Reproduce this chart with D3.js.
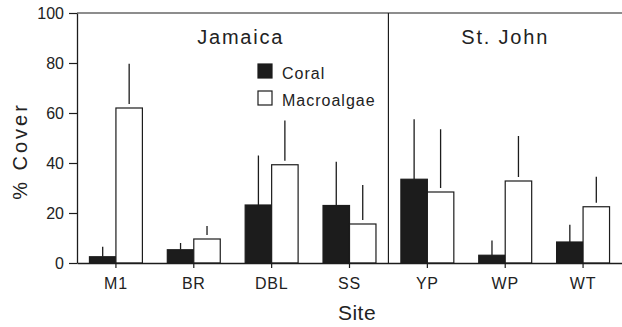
<!DOCTYPE html>
<html>
<head>
<meta charset="utf-8">
<script src="https://cdn.jsdelivr.net/npm/d3@7"></script>
<style>
  body { margin: 0; background: #fff; }
  svg { display: block; font-family: "Liberation Sans", Arial, sans-serif; }
</style>
</head>
<body>
<svg width="622" height="327"></svg>
<script>
// data (mean % cover and upper end of the error bar)
var sites = ["M1", "BR", "DBL", "SS", "YP", "WP", "WT"];
var series = ["Coral", "Macroalgae"];
var coral = [2.5, 5.3, 23.2, 23, 33.5, 3.1, 8.4];
var coralErr = [6.5, 8, 43, 40.5, 57.5, 9, 15.3];
var macro = [62, 9.6, 39.3, 15.6, 28.4, 32.8, 22.5];
var macroErr = [79.7, 14.8, 57, 31.2, 53.5, 50.8, 34.5];
var yTicks = [0, 20, 40, 60, 80, 100];
var regions = [{ name: "Jamaica", from: "M1", to: "SS" }, { name: "St. John", from: "YP", to: "WT" }];

var svg = d3.select("svg"),
    margin = { top: 13, right: 0, bottom: 64, left: 77 },
    width = +svg.attr("width") - margin.left - margin.right,
    height = +svg.attr("height") - margin.top - margin.bottom,
    g = svg.append("g").attr("transform", "translate(" + margin.left + "," + margin.top + ")");

var ink = "#1c1c1c";

var x = d3.scaleBand()
    .domain(sites)
    .range([0, width])
    .paddingInner(0.32)
    .paddingOuter(0.16);

var x1 = d3.scaleBand()
    .domain(series)
    .range([0, x.bandwidth()]);

var y = d3.scaleLinear()
    .domain([0, 100])
    .range([height, 0]);

// rijen per site
var rows = sites.map(function (s, i) {
    return [
        { site: s, key: "Coral", v: coral[i], e: coralErr[i] },
        { site: s, key: "Macroalgae", v: macro[i], e: macroErr[i] }
    ];
});

var groups = g.append("g")
    .selectAll("g")
    .data(rows)
    .enter().append("g")
    .attr("transform", function (d) { return "translate(" + x(d[0].site) + ",0)"; });

// error bars first (upper side only)
groups.selectAll("line.err")
    .data(function (d) { return d; })
    .enter().append("line")
    .attr("class", "err")
    .attr("x1", function (d) { return x1(d.key) + x1.bandwidth() / 2; })
    .attr("x2", function (d) { return x1(d.key) + x1.bandwidth() / 2; })
    .attr("y1", function (d) { return y(d.v) - (d.key === "Macroalgae" ? 4 : 0); })
    .attr("y2", function (d) { return y(d.e); })
    .attr("stroke", ink)
    .attr("stroke-width", 1.3);

groups.selectAll("rect")
    .data(function (d) { return d; })
    .enter().append("rect")
    .attr("x", function (d) { return x1(d.key); })
    .attr("y", function (d) { return y(d.v); })
    .attr("width", x1.bandwidth())
    .attr("height", function (d) { return y(0) - y(d.v); })
    .attr("fill", function (d) { return d.key === "Coral" ? ink : "#fff"; })
    .attr("stroke", ink)
    .attr("stroke-width", 1.2);

// frame: top line and the divider between the two islands
g.append("line")
    .attr("x1", 0).attr("x2", width)
    .attr("y1", 0).attr("y2", 0)
    .attr("stroke", ink).attr("stroke-width", 1.2);

var divX = (x("SS") + x.bandwidth() + x("YP")) / 2;
g.append("line")
    .attr("x1", divX).attr("x2", divX)
    .attr("y1", 0).attr("y2", height)
    .attr("stroke", ink).attr("stroke-width", 1.2);

// assen
var xAxis = g.append("g")
    .attr("transform", "translate(0," + height + ")")
    .call(d3.axisBottom(x).tickSizeInner(5).tickSizeOuter(0).tickPadding(10));

var yAxis = g.append("g")
    .call(d3.axisLeft(y).tickValues(yTicks).tickSizeInner(8).tickSizeOuter(0).tickPadding(5));

[xAxis, yAxis].forEach(function (a) {
    a.select(".domain").attr("stroke", ink).attr("stroke-width", 1.3);
    a.selectAll(".tick line").attr("stroke", ink).attr("stroke-width", 1.2);
    a.selectAll(".tick text")
        .attr("font-family", "Liberation Sans, Arial, sans-serif")
        .attr("font-size", 16)
        .attr("fill", "#222");
});
xAxis.selectAll(".tick text").attr("letter-spacing", 0.8);

// region titles
g.append("g")
    .selectAll("text")
    .data(regions)
    .enter().append("text")
    .attr("x", function (d) {
        var left = d.from === sites[0] ? 0 : divX;
        var right = d.to === sites[sites.length - 1] ? width : divX;
        return (left + right) / 2 + (d.from === sites[0] ? 8 : 0);
    })
    .attr("y", 31)
    .attr("text-anchor", "middle")
    .attr("font-size", 20)
    .attr("letter-spacing", 1.8)
    .attr("fill", "#222")
    .text(function (d) { return d.name; });

// legend
var legend = g.append("g")
    .attr("transform", "translate(181,51)")
    .selectAll("g")
    .data(series)
    .enter().append("g")
    .attr("transform", function (d, i) { return "translate(0," + i * 27 + ")"; });

legend.append("rect")
    .attr("width", 14)
    .attr("height", 14)
    .attr("fill", function (d) { return d === "Coral" ? ink : "#fff"; })
    .attr("stroke", ink)
    .attr("stroke-width", 1.2);

legend.append("text")
    .attr("x", 24)
    .attr("y", 15)
    .attr("font-size", 16)
    .attr("letter-spacing", 1)
    .attr("fill", "#222")
    .text(function (d) { return d; });

// axis titles
svg.append("text")
    .attr("x", 357)
    .attr("y", 320)
    .attr("text-anchor", "middle")
    .attr("font-size", 21)
    .attr("letter-spacing", 0.5)
    .attr("fill", "#222")
    .text("Site");

svg.append("text")
    .attr("transform", "translate(27,151) rotate(-90)")
    .attr("text-anchor", "middle")
    .attr("font-size", 20)
    .attr("letter-spacing", 3)
    .attr("fill", "#222")
    .text("% Cover");
</script>
</body>
</html>
